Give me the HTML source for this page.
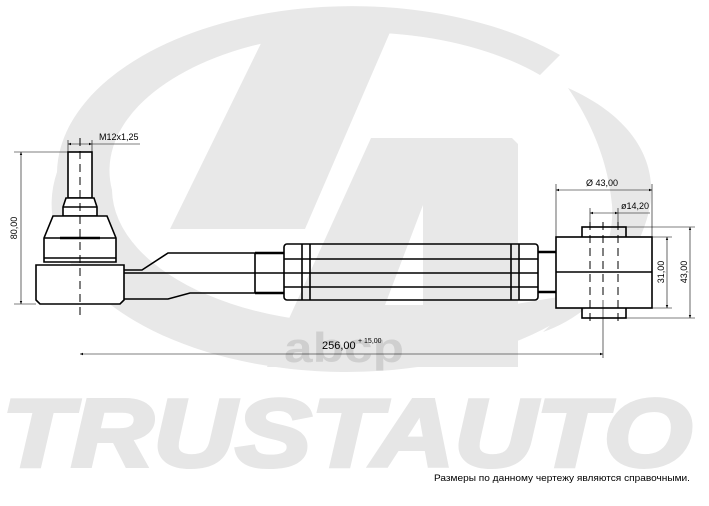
<!DOCTYPE html>
<html><head><meta charset="utf-8"><style>
html,body{margin:0;padding:0;background:#fff;}
svg{display:block;}
text{font-family:"Liberation Sans",sans-serif;}
</style></head><body>
<svg width="709" height="506" viewBox="0 0 709 506" xmlns="http://www.w3.org/2000/svg">
<defs>
<marker id="ar" viewBox="0 0 10 10" refX="10" refY="5" markerWidth="7" markerHeight="5" orient="auto-start-reverse"><path d="M0,1 L10,5 L0,9z" fill="#000"/></marker>
</defs>
<g fill="#e8e8e8">
<path fill-rule="evenodd" d="M57,172 A295,168 0 0 1 560,55 L540,75 A250,138 0 0 0 112,190 A250,135 0 0 0 420,320 L600,290 A295,168 0 0 1 57,172Z"/>
<path d="M568,88 C640,120 660,170 648,215 C630,280 580,320 543,332 C590,290 615,250 612,205 C608,160 590,120 568,88Z"/>
<path d="M271,23 L394,23 L305,229 L170,229 Z"/>
<path fill-rule="evenodd" d="M371,138 L512,138 L518,144 L518,367 L267,367 Z M423,205 L423,305 L385,305 Z"/>
</g>
<text x="2" y="466" font-size="96" font-weight="bold" font-style="italic" fill="#e6e6e6" stroke="#e6e6e6" stroke-width="4" textLength="690" lengthAdjust="spacingAndGlyphs">TRUSTAUTO</text>
<text x="284" y="362" font-size="42" fill="#cfcfcf" font-weight="bold" textLength="120" lengthAdjust="spacingAndGlyphs">abcp</text>

<g fill="none" stroke="#000" stroke-width="1.6">
<rect x="68" y="152" width="24" height="46" fill="#fff"/>
<path d="M66,198 L94,198 L97,207 L97,216 L63,216 L63,207 Z" fill="#fff"/>
<line x1="63" y1="207" x2="97" y2="207"/>
<path d="M53,216 L107,216 L116,238 L116,262 L44,262 L44,238 Z" fill="#fff"/>
<line x1="44" y1="238" x2="116" y2="238"/>
<line x1="60" y1="238" x2="100" y2="238" stroke-width="2.5"/>
<line x1="44" y1="258" x2="116" y2="258"/>
<path d="M36,265 L124,265 L124,300 L120,304 L40,304 L36,300 Z" fill="#fff"/>
<path d="M124,270 L142,270 L168,253 L255,253"/>
<path d="M124,299 L168,299 L190,293 L255,293"/>
<line x1="124" y1="273" x2="284" y2="273"/>
<line x1="255" y1="253" x2="255" y2="293"/>
<line x1="255" y1="253" x2="284" y2="253" stroke-width="2.5"/>
<line x1="255" y1="293" x2="284" y2="293" stroke-width="2.5"/>
<rect x="284" y="244" width="254" height="56" rx="3"/>
<line x1="284" y1="259" x2="538" y2="259"/>
<line x1="284" y1="273" x2="538" y2="273"/>
<line x1="284" y1="287" x2="538" y2="287"/>
<line x1="302" y1="244" x2="302" y2="300"/>
<line x1="310" y1="244" x2="310" y2="300"/>
<line x1="511" y1="244" x2="511" y2="300"/>
<line x1="519" y1="244" x2="519" y2="300"/>
<line x1="538" y1="252" x2="556" y2="252" stroke-width="2.5"/>
<line x1="538" y1="292" x2="556" y2="292" stroke-width="2.5"/>
<rect x="582" y="227" width="44" height="91"/>
<rect x="556" y="237" width="96" height="71" fill="#fff"/>
<line x1="556" y1="272" x2="652" y2="272"/>
</g>
<g fill="none" stroke="#000" stroke-width="1" stroke-dasharray="8,5">
<line x1="80" y1="138" x2="80" y2="320"/>
<line x1="590" y1="222" x2="590" y2="322"/>
<line x1="618" y1="222" x2="618" y2="322"/>
<line x1="603" y1="222" x2="603" y2="300"/>
</g>
<g stroke="#000" stroke-width="0.6" fill="none">
<line x1="14" y1="152" x2="68" y2="152"/>
<line x1="14" y1="304" x2="36" y2="304"/>
<line x1="21" y1="152" x2="21" y2="304" marker-start="url(#ar)" marker-end="url(#ar)"/>
<line x1="68" y1="140" x2="68" y2="152"/><line x1="92" y1="140" x2="92" y2="152"/>
<line x1="68" y1="144" x2="92" y2="144" marker-start="url(#ar)" marker-end="url(#ar)"/>
<line x1="92" y1="144" x2="140" y2="144"/>
<line x1="556" y1="184" x2="556" y2="237"/><line x1="652" y1="184" x2="652" y2="237"/>
<line x1="556" y1="190" x2="652" y2="190" marker-start="url(#ar)" marker-end="url(#ar)"/>
<line x1="590" y1="208" x2="590" y2="222"/><line x1="618" y1="208" x2="618" y2="222"/>
<line x1="590" y1="213" x2="618" y2="213" marker-start="url(#ar)" marker-end="url(#ar)"/>
<line x1="618" y1="213" x2="650" y2="213"/>
<line x1="652" y1="237" x2="672" y2="237"/><line x1="652" y1="308" x2="672" y2="308"/>
<line x1="667" y1="237" x2="667" y2="308" marker-start="url(#ar)" marker-end="url(#ar)"/>
<line x1="626" y1="227" x2="695" y2="227"/><line x1="626" y1="318" x2="695" y2="318"/>
<line x1="690" y1="227" x2="690" y2="318" marker-start="url(#ar)" marker-end="url(#ar)"/>
<line x1="603" y1="300" x2="603" y2="358"/>
<line x1="80" y1="354" x2="603" y2="354" marker-start="url(#ar)" marker-end="url(#ar)"/>
</g>
<g fill="#000" font-size="9">
<text x="99" y="140">M12x1,25</text>
<text transform="translate(17,228) rotate(-90)" text-anchor="middle">80,00</text>
<text x="586" y="186">Ø 43,00</text>
<text x="621" y="209">ø14,20</text>
<text transform="translate(664,272) rotate(-90)" text-anchor="middle">31,00</text>
<text transform="translate(687,272) rotate(-90)" text-anchor="middle">43,00</text>
<text x="322" y="349" font-size="11">256,00</text>
<text x="358" y="343" font-size="7">+ 15,00</text>
<text x="434" y="481" font-size="9.5" textLength="256" lengthAdjust="spacingAndGlyphs">Размеры по данному чертежу являются справочными.</text>
</g>
</svg>
</body></html>
